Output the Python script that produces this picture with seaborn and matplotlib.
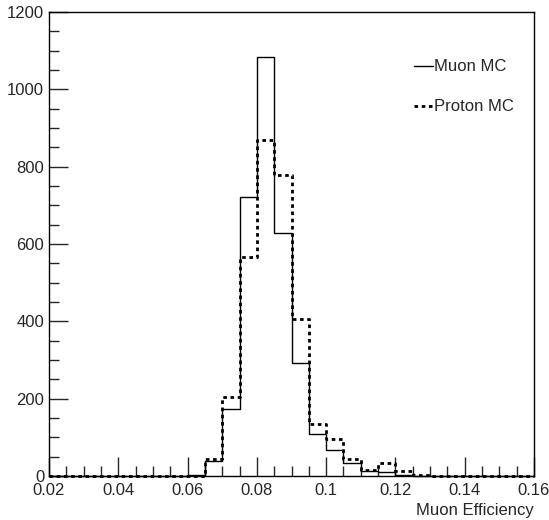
import numpy as np
import pandas as pd
import matplotlib
matplotlib.use("Agg")
import matplotlib.pyplot as plt
import matplotlib.transforms as mtransforms
from matplotlib.ticker import MultipleLocator, FuncFormatter
import seaborn as sns

# histogram binning: 28 bins of width 0.005 from 0.02 to 0.16
bin_width = 0.005
bin_range = (0.02, 0.16)
bin_centers = np.round(np.arange(0.0225, 0.16, bin_width), 4)

# counts per bin
muon_counts = [0, 0, 0, 0, 0, 0, 0, 0,
               3, 40, 173, 722, 1083, 629, 293, 109, 67, 33, 12, 10, 3, 0,
               0, 0, 0, 0, 0, 0]
proton_counts = [0, 0, 0, 0, 0, 0, 0, 0,
                 1, 45, 204, 567, 869, 778, 405, 134, 95, 43, 15, 33, 14, 2,
                 0, 0, 0, 0, 0, 0]

df = pd.DataFrame({"eff": bin_centers, "muon": muon_counts, "proton": proton_counts})

sns.set_style("ticks")
plt.rcParams['font.family'] = ['Liberation Sans', 'DejaVu Sans']

fig = plt.figure(figsize=(5.49, 5.20), dpi=100)
ax = fig.add_axes([49 / 549, 1 - 476 / 520, (534 - 49) / 549, (476 - 12) / 520])

sns.histplot(data=df, x="eff", weights="muon", binwidth=bin_width, binrange=bin_range,
             element="step", fill=False, color="black", linewidth=1.0, ax=ax,
             label="Muon MC", zorder=3, clip_on=False)
sns.histplot(data=df, x="eff", weights="proton", binwidth=bin_width, binrange=bin_range,
             element="step", fill=False, color="black", linewidth=2.0,
             linestyle=(0, (1.3, 1.3)), ax=ax, label="Proton MC", zorder=4, clip_on=False)

ax.set_xlim(0.02, 0.16)
ax.set_ylim(0, 1200)
ax.set_ylabel("")
ax.set_xlabel("Muon Efficiency", loc="right", fontsize=12, labelpad=4)

ax.xaxis.set_major_locator(MultipleLocator(0.02))
ax.xaxis.set_minor_locator(MultipleLocator(0.005))
ax.yaxis.set_major_locator(MultipleLocator(200))
ax.yaxis.set_minor_locator(MultipleLocator(50))
ax.xaxis.set_major_formatter(FuncFormatter(lambda v, p: "%g" % round(v, 3)))
ax.tick_params(which="both", direction="in", top=False, right=False, labelsize=12)
ax.tick_params(which="major", length=14, width=1)
ax.tick_params(which="minor", length=7, width=1)
ax.tick_params(axis="x", pad=5)
for s in ax.spines.values():
    s.set_linewidth(1.0)
    s.set_color("black")
    s.set_visible(True)

# nudge the "0" on the y axis up a little so it clears "0.02"
zero_lab = ax.yaxis.get_major_ticks()[0].label1
zero_lab.set_transform(zero_lab.get_transform() +
                       mtransforms.ScaledTranslation(0, 3 / 100, fig.dpi_scale_trans))

ax.legend(loc="upper right", bbox_to_anchor=(0.99, 0.93), frameon=False, fontsize=12,
          handlelength=1.1, handletextpad=0.1, labelspacing=1.5)

fig.savefig("out.png", dpi=100)
